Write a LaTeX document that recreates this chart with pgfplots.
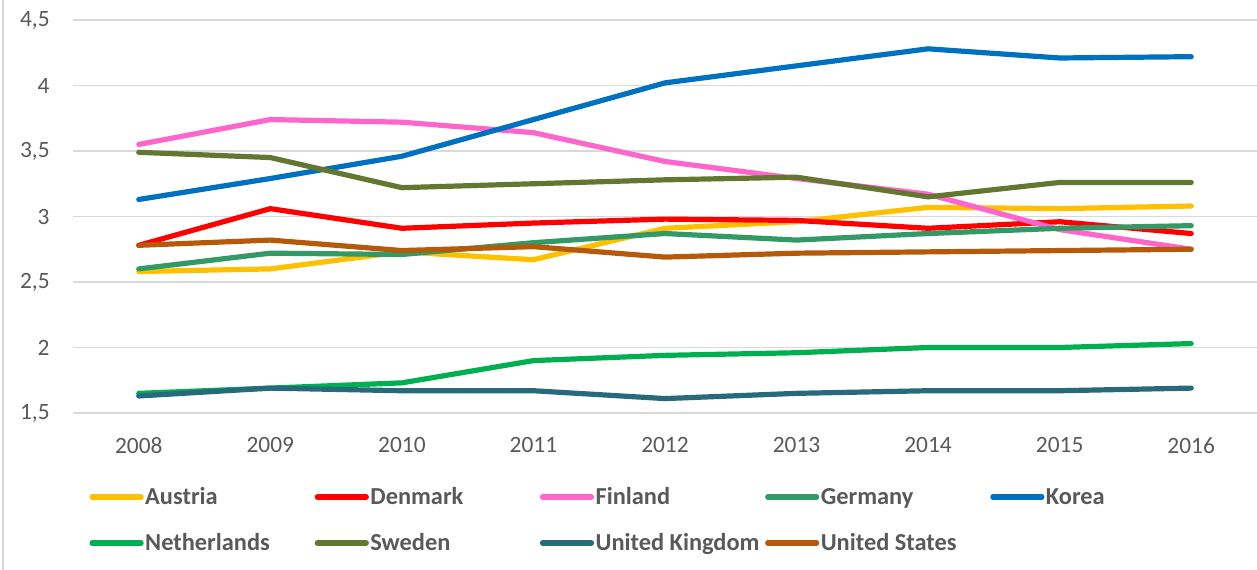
\documentclass[border=0pt]{standalone}
\usepackage{pgfplots}
\pgfplotsset{compat=1.18}
\usepackage{fontspec}
\setmainfont{Carlito}
\definecolor{cAustria}{HTML}{FFC000}
\definecolor{cDenmark}{HTML}{FF0000}
\definecolor{cFinland}{HTML}{FF66CC}
\definecolor{cGermany}{HTML}{339966}
\definecolor{cKorea}{HTML}{0070C0}
\definecolor{cNetherlands}{HTML}{00B050}
\definecolor{cSweden}{HTML}{637730}
\definecolor{cUK}{HTML}{276A7C}
\definecolor{cUS}{HTML}{B55A0A}
\definecolor{gridc}{HTML}{D9D9D9}
\definecolor{tickc}{HTML}{595959}
\begin{document}
\begin{tikzpicture}
\path[use as bounding box] (-36.5bp,-78.5bp) rectangle (592bp,206.5bp);
\draw[color=gridc, line width=0.75bp] (-35bp,-78.5bp) -- (-35bp,206.5bp);
\begin{axis}[
  at={(0,0)}, anchor=south west,
  scale only axis, width=592bp, height=196.5bp,
  xmin=2007.5, xmax=2016.5, ymin=1.5, ymax=4.5,
  xtick={2008,2009,2010,2011,2012,2013,2014,2015,2016},
  ytick={1.5,2,2.5,3,3.5,4,4.5},
  axis line style={draw=none},
  tick style={draw=none},
  ymajorgrids,
  grid style={color=gridc, line width=0.75bp},
  /pgf/number format/assume math mode=true,
  ticklabel style={font=\fontsize{11.7bp}{13bp}\selectfont, text=tickc},
  yticklabel style={anchor=east, inner sep=0pt, xshift=-11.5bp, /pgf/number format/use comma},
  xticklabel style={anchor=north, inner sep=0pt, yshift=-12bp, /pgf/number format/set thousands separator={}},
  legend columns=5,
  legend style={at={(axis description cs:0,0)}, anchor=north west, xshift=8.25bp, yshift=-36bp,
    draw=none, fill=none, inner sep=0pt, outer sep=0pt, column sep=0pt, row sep=11bp,
    nodes={inner sep=0pt, text height=9.5bp, text depth=2.5bp, anchor=west},
    font=\bfseries\fontsize{12.2bp}{14bp}\selectfont, text=tickc},
  legend image code/.code={\draw[#1, line width=2.6bp, line cap=round] (0bp,0bp) -- (24.5bp,0bp); \path (25.25bp,0bp);},
  every axis plot/.append style={line width=2.6bp, line cap=round, line join=round},
]
\addplot[color=cAustria] coordinates {(2008,2.58) (2009,2.60) (2010,2.73) (2011,2.67) (2012,2.91) (2013,2.96) (2014,3.07) (2015,3.06) (2016,3.08)};
\addlegendentry{\makebox[84.75bp][l]{Austria}}
\addplot[color=cDenmark] coordinates {(2008,2.78) (2009,3.06) (2010,2.91) (2011,2.95) (2012,2.98) (2013,2.97) (2014,2.91) (2015,2.96) (2016,2.87)};
\addlegendentry{\makebox[84.75bp][l]{Denmark}}
\addplot[color=cFinland] coordinates {(2008,3.55) (2009,3.74) (2010,3.72) (2011,3.64) (2012,3.42) (2013,3.29) (2014,3.17) (2015,2.90) (2016,2.75)};
\addlegendentry{\makebox[84.75bp][l]{Finland}}
\addplot[color=cGermany] coordinates {(2008,2.60) (2009,2.72) (2010,2.71) (2011,2.80) (2012,2.87) (2013,2.82) (2014,2.87) (2015,2.91) (2016,2.93)};
\addlegendentry{\makebox[84.75bp][l]{Germany}}
\addplot[color=cKorea] coordinates {(2008,3.13) (2009,3.29) (2010,3.46) (2011,3.74) (2012,4.02) (2013,4.15) (2014,4.28) (2015,4.21) (2016,4.22)};
\addlegendentry{\makebox[84.75bp][l]{Korea}}
\addplot[color=cNetherlands] coordinates {(2008,1.65) (2009,1.69) (2010,1.73) (2011,1.90) (2012,1.94) (2013,1.96) (2014,2.00) (2015,2.00) (2016,2.03)};
\addlegendentry{\makebox[84.75bp][l]{Netherlands}}
\addplot[color=cSweden] coordinates {(2008,3.49) (2009,3.45) (2010,3.22) (2011,3.25) (2012,3.28) (2013,3.30) (2014,3.15) (2015,3.26) (2016,3.26)};
\addlegendentry{\makebox[84.75bp][l]{Sweden}}
\addplot[color=cUK] coordinates {(2008,1.63) (2009,1.69) (2010,1.67) (2011,1.67) (2012,1.61) (2013,1.65) (2014,1.67) (2015,1.67) (2016,1.69)};
\addlegendentry{\makebox[84.75bp][l]{United Kingdom}}
\addplot[color=cUS] coordinates {(2008,2.78) (2009,2.82) (2010,2.74) (2011,2.77) (2012,2.69) (2013,2.72) (2014,2.73) (2015,2.74) (2016,2.75)};
\addlegendentry{\makebox[84.75bp][l]{United States}}
\end{axis}
\end{tikzpicture}
\end{document}
